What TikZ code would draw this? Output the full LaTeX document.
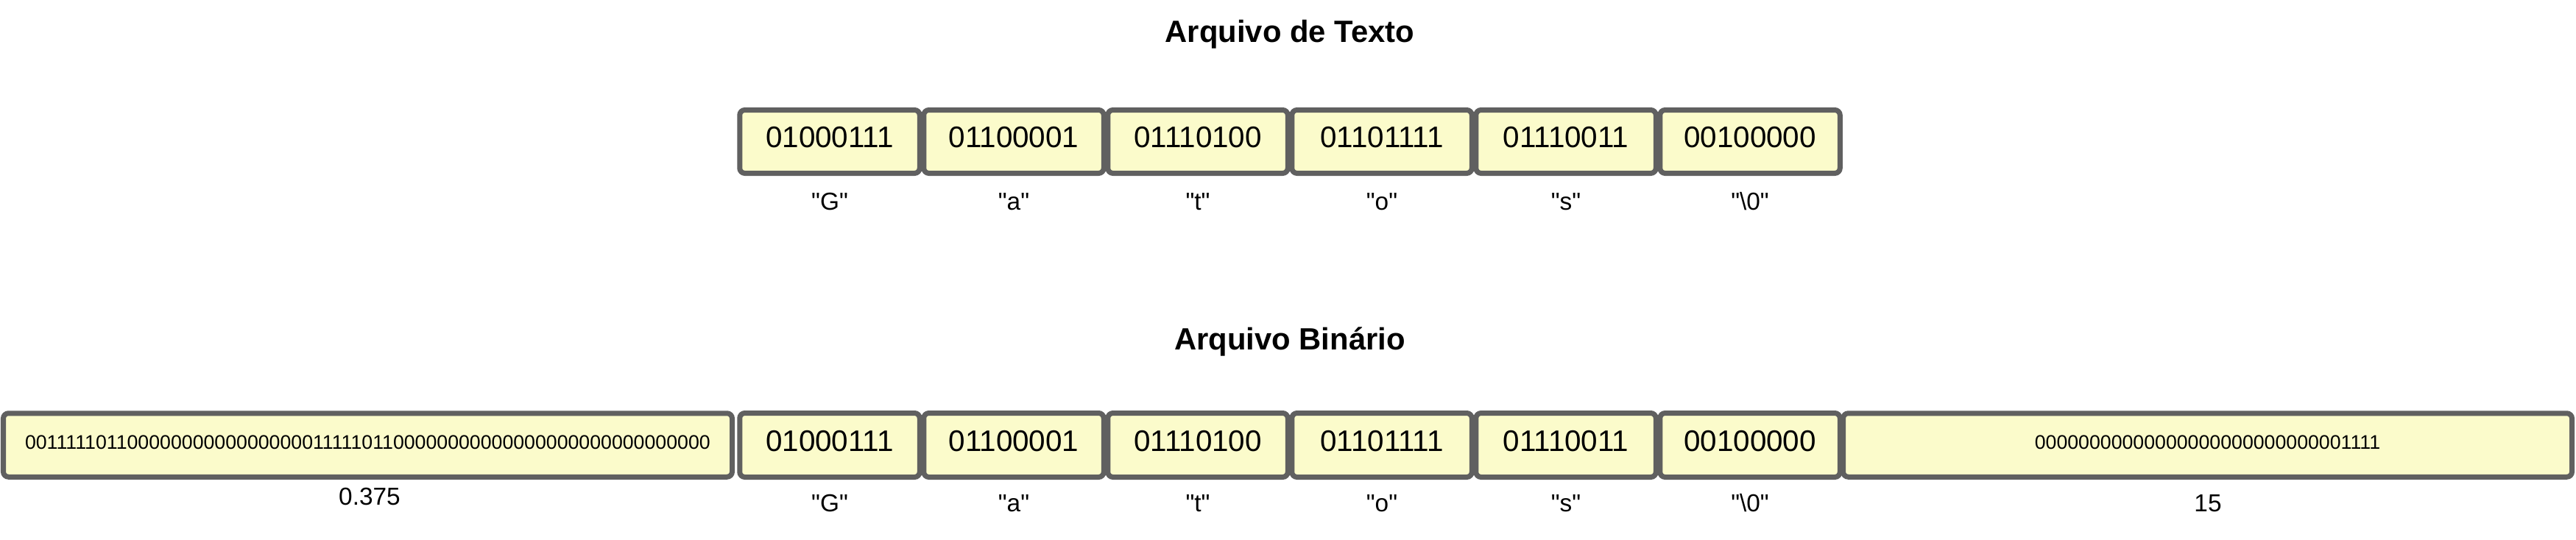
\documentclass[tikz,border=0pt]{standalone}
\usepackage{fontspec}
\newfontfamily\diagfont{Liberation Sans}
\definecolor{cellfill}{RGB}{251,251,203}
\definecolor{cellline}{RGB}{96,96,96}

\begin{document}
\begin{tikzpicture}[
    cell/.style={rectangle, rounded corners=0.07cm, draw=cellline, fill=cellfill,
        line width=0.07cm, minimum width=2.445cm, minimum height=0.86cm, inner sep=0pt,
        font=\diagfont\fontsize{11.5}{13}\selectfont, text height=0.285cm, text depth=0.125cm},
    widecell/.style={cell, minimum width=9.9cm, minimum height=0.865cm,
        font=\diagfont\fontsize{7.6}{9}\selectfont, text height=0.19cm, text depth=0.09cm},
    title/.style={font=\diagfont\bfseries\fontsize{11.9}{14}\selectfont, anchor=base, inner sep=0pt},
    tag/.style={font=\diagfont\fontsize{9.5}{11}\selectfont, anchor=base, inner sep=0pt}
]
\useasboundingbox (0,0) rectangle (34.99,-7.33);

    % arquivo de texto
    \node (tt) at (17.52,-0.57) [title] {Arquivo de Texto};

    \node (t0) at (11.27,-1.925) [cell] {01000111};
    \node (t1) at (13.77,-1.925) [cell] {01100001};
    \node (t2) at (16.27,-1.925) [cell] {01110100};
    \node (t3) at (18.77,-1.925) [cell] {01101111};
    \node (t4) at (21.27,-1.925) [cell] {01110011};
    \node (t5) at (23.77,-1.925) [cell] {00100000};

    \node (lt0) at (11.27,-2.85) [tag] {"G"};
    \node (lt1) at (13.77,-2.85) [tag] {"a"};
    \node (lt2) at (16.27,-2.85) [tag] {"t"};
    \node (lt3) at (18.77,-2.85) [tag] {"o"};
    \node (lt4) at (21.27,-2.85) [tag] {"s"};
    \node (lt5) at (23.77,-2.85) [tag] {"\textbackslash 0"};

    % arquivo binario
    \node (bt) at (17.52,-4.75) [title] {Arquivo Binário};

    \node (bf) at (4.995,-6.05) [widecell] {0011111011000000000000000001111101100000000000000000000000000000};
    \node (b0) at (11.27,-6.05) [cell, minimum height=0.87cm] {01000111};
    \node (b1) at (13.77,-6.05) [cell, minimum height=0.87cm] {01100001};
    \node (b2) at (16.27,-6.05) [cell, minimum height=0.87cm] {01110100};
    \node (b3) at (18.77,-6.05) [cell, minimum height=0.87cm] {01101111};
    \node (b4) at (21.27,-6.05) [cell, minimum height=0.87cm] {01110011};
    \node (b5) at (23.77,-6.05) [cell, minimum height=0.87cm] {00100000};
    \node (bi) at (29.985,-6.05) [widecell] {00000000000000000000000000001111};

    \node (lbf) at (5.02,-6.867) [tag] {0.375};
    \node (lb0) at (11.27,-6.95) [tag] {"G"};
    \node (lb1) at (13.77,-6.95) [tag] {"a"};
    \node (lb2) at (16.27,-6.95) [tag] {"t"};
    \node (lb3) at (18.77,-6.95) [tag] {"o"};
    \node (lb4) at (21.27,-6.95) [tag] {"s"};
    \node (lb5) at (23.77,-6.95) [tag] {"\textbackslash 0"};
    \node (lbi) at (29.99,-6.95) [tag] {15};

\end{tikzpicture}
\end{document}
